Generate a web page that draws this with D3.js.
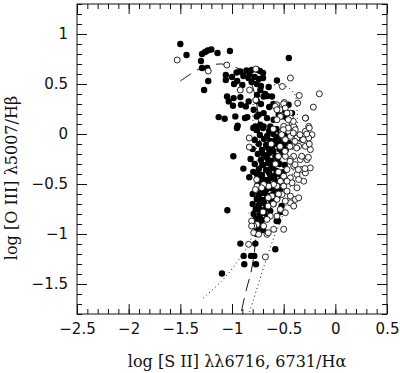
<!DOCTYPE html>
<html>
<head>
<meta charset="utf-8">
<script src="https://cdn.jsdelivr.net/npm/d3@7"></script>
<style>
  body { margin: 0; background: #fff; }
  svg { display: block; }
  .tick text { font-family: "DejaVu Sans", sans-serif; font-size: 15px; fill: #111; }
  .title { font-family: "DejaVu Serif", serif; font-size: 16px; fill: #111; }
</style>
</head>
<body>
<svg id="chart"></svg>
<script>
// tick values
const xTicks = [-2.5, -2, -1.5, -1, -0.5, 0, 0.5];
const yTicks = [-1.5, -1, -0.5, 0, 0.5, 1];

// filled circles: [log SII/Ha, log OIII/Hb]
const filledPts = [
  [-1.50, 0.90], [-1.44, 0.79], [-1.29, 0.80], [-1.26, 0.82], [-1.235, 0.835], [-1.20, 0.845],
  [-1.30, 0.73], [-1.29, 0.66], [-1.24, 0.66], [-1.23, 0.53], [-1.27, 0.44], [-1.14, 0.81],
  [-1.02, 0.83], [-0.45, 0.76],
  [-1.06, 0.59], [-1.00, 0.57], [-0.955, 0.615], [-0.92, 0.625], [-0.89, 0.58], [-0.86, 0.635],
  [-0.83, 0.60], [-0.81, 0.64], [-0.76, 0.645], [-0.73, 0.63], [-0.70, 0.61], [-0.84, 0.56],
  [-0.78, 0.57], [-0.74, 0.55], [-0.70, 0.56], [-1.06, 0.54], [-0.98, 0.50], [-0.95, 0.53],
  [-0.90, 0.49], [-0.81, 0.52], [-0.76, 0.50], [-0.72, 0.48], [-0.565, 0.535], [-0.645, 0.47],
  [-0.726, 0.44], [-0.758, 0.39], [-0.694, 0.375], [-0.613, 0.375], [-0.68, 0.40], [-0.66, 0.38],
  [-1.048, 0.375], [-1.032, 0.326], [-0.984, 0.359], [-0.99, 0.282], [-0.919, 0.369], [-0.913, 0.292],
  [-0.866, 0.276], [-0.839, 0.326], [-0.79, 0.243], [-0.742, 0.193], [-0.694, 0.209], [-0.661, 0.159],
  [-0.726, 0.093], [-0.774, 0.076], [-0.694, 0.076], [-0.629, 0.076], [-0.597, 0.143], [-0.548, 0.193],
  [-0.516, 0.176], [-0.50, 0.243], [-0.468, 0.159], [-0.419, 0.209], [-0.452, 0.292], [-0.60, 0.30],
  [-0.64, 0.27], [-0.72, 0.30], [-0.76, 0.33],
  [-1.129, 0.169], [-1.071, 0.153], [-0.968, 0.176], [-0.945, 0.083], [-0.952, 0.06], [-0.852, 0.169],
  [-0.874, 0.16], [-0.761, 0.175], [-0.794, 0.06],
  [-0.76, 0.04], [-0.70, 0.06], [-0.64, 0.03], [-0.57, 0.05], [-0.53, 0.02],
  [-0.73, -0.01], [-0.66, -0.02], [-0.60, 0.00], [-0.55, -0.03], [-0.50, 0.01], [-0.47, -0.02],
  [-0.78, -0.06], [-0.69, -0.05], [-0.63, -0.07], [-0.58, -0.06], [-0.52, -0.08],
  [-0.74, -0.10], [-0.67, -0.11], [-0.61, -0.12], [-0.56, -0.10], [-0.50, -0.11], [-0.45, -0.09],
  [-0.80, -0.15], [-0.71, -0.16], [-0.65, -0.14], [-0.60, -0.17], [-0.54, -0.15], [-0.48, -0.16],
  [-0.75, -0.20], [-0.69, -0.21], [-0.64, -0.19], [-0.58, -0.22], [-0.52, -0.20],
  [-0.82, -0.25], [-0.72, -0.26], [-0.66, -0.24], [-0.62, -0.27], [-0.56, -0.25],
  [-0.78, -0.30], [-0.70, -0.31], [-0.65, -0.29], [-0.60, -0.32], [-0.54, -0.30], [-0.49, -0.31],
  [-0.74, -0.35], [-0.67, -0.36], [-0.62, -0.34], [-0.57, -0.37],
  [-0.76, -0.40], [-0.71, -0.41], [-0.64, -0.39], [-0.59, -0.42], [-0.54, -0.40], [-0.50, -0.38],
  [-0.73, -0.45], [-0.68, -0.46], [-0.63, -0.44], [-0.58, -0.47], [-0.52, -0.45],
  [-0.75, -0.50], [-0.70, -0.51], [-0.65, -0.49], [-0.60, -0.52], [-0.55, -0.50],
  [-0.72, -0.55], [-0.67, -0.56], [-0.63, -0.54], [-0.58, -0.57], [-0.53, -0.55],
  [-0.80, -0.60], [-0.74, -0.61], [-0.69, -0.59], [-0.64, -0.62], [-0.60, -0.60], [-0.56, -0.63],
  [-0.76, -0.65], [-0.71, -0.66], [-0.66, -0.64], [-0.62, -0.67], [-0.58, -0.65],
  [-0.80, -0.70], [-0.74, -0.71], [-0.69, -0.69], [-0.65, -0.72], [-0.60, -0.70],
  [-0.77, -0.75], [-0.72, -0.76], [-0.67, -0.74], [-0.63, -0.77],
  [-0.79, -0.80], [-0.73, -0.81], [-0.69, -0.79], [-0.64, -0.82],
  [-0.77, -0.85], [-0.71, -0.86], [-0.66, -0.84], [-0.80, -0.90], [-0.74, -0.91],
  [-0.76, -0.95], [-0.70, -0.96],
  [-0.987, -0.223], [-1.045, -0.762], [-0.89, -0.346], [-0.794, -0.379], [-0.833, -0.433],
  [-0.919, -1.096], [-1.097, -1.395], [-0.887, -1.219], [-0.881, -1.302], [-0.816, -1.219],
  [-0.784, -1.219], [-0.768, -1.302], [-0.774, -1.096], [-0.581, -1.153], [-0.52, -0.72],
  [-0.53, -0.78], [-0.555, -0.87], [-0.76, -1.0], [-0.745, -0.88], [-0.568, -0.87]
];

// open circles
const openPts = [
  [-1.53, 0.74], [-1.23, 0.63], [-1.05, 0.69], [-0.77, 0.65], [-0.92, 0.44], [-0.83, 0.44],
  [-0.77, 0.34], [-0.435, 0.56], [-0.513, 0.475], [-0.349, 0.385], [-0.155, 0.402], [-0.364, 0.309],
  [-0.213, 0.269], [-0.287, 0.16], [-0.567, 0.292], [-0.494, 0.315], [-0.535, 0.242], [-0.439, 0.209],
  [-0.581, 0.276], [-0.565, 0.243], [-0.50, 0.302], [-0.484, 0.259], [-0.468, 0.209], [-0.532, 0.176],
  [-0.565, 0.143], [-0.435, 0.159], [-0.419, 0.11], [-0.403, 0.076], [-0.50, 0.076], [-0.516, 0.027],
  [-0.452, 0.027], [-0.387, 0.043], [-0.29, 0.159], [-0.258, 0.076], [-0.29, 0.027], [-0.226, -0.007],
  [-0.258, -0.04], [-0.323, -0.056], [-0.371, -0.04], [-0.435, -0.023], [-0.484, -0.056], [-0.419, -0.123],
  [-0.355, -0.123], [-0.29, -0.123], [-0.242, -0.156], [-0.403, -0.223], [-0.339, -0.256], [-0.435, -0.256],
  [-0.484, -0.223], [-0.274, -0.256], [-0.323, -0.355], [-0.242, -0.339], [-0.29, -0.389], [-0.403, -0.322],
  [-0.468, -0.355], [-0.371, -0.405], [-0.435, -0.439], [-0.50, -0.422], [-0.532, -0.472], [-0.565, -0.522],
  [-0.50, -0.522], [-0.468, -0.571], [-0.516, -0.605], [-0.435, -0.621], [-0.387, -0.654], [-0.435, -0.688],
  [-0.484, -0.671], [-0.403, -0.721], [-0.355, -0.638], [-0.371, -0.538], [-0.306, -0.472], [-0.355, -0.455],
  [-0.419, -0.488], [-0.468, -0.472], [-0.597, -0.505], [-0.645, -0.522], [-0.694, -0.505], [-0.758, -0.522],
  [-0.774, -0.555], [-0.613, -0.621], [-0.565, -0.654], [-0.532, -0.754], [-0.484, -0.787], [-0.565, -0.821],
  [-0.629, -0.821], [-0.661, -0.854], [-0.694, -0.92], [-0.758, -0.904], [-0.79, -0.92], [-0.79, -0.987],
  [-0.742, -1.003], [-0.661, -1.003], [-0.597, -0.953], [-0.50, -0.953], [-0.839, -1.103], [-0.677, -1.229],
  [-0.252, 0.06], [-0.277, 0.0], [-0.31, -0.057], [-0.252, -0.10], [-0.261, -0.233], [-0.325, -0.223],
  [-0.374, -0.14], [-0.39, -0.074], [-0.342, -0.007], [-0.407, 0.01], [-0.455, 0.06], [-0.503, 0.043],
  [-0.519, -0.007], [-0.439, -0.124], [-0.487, -0.173], [-0.439, -0.273], [-0.39, -0.306], [-0.294, -0.346],
  [-0.358, -0.356], [-0.535, -0.124], [-0.551, -0.223], [-0.407, 0.126], [-0.455, 0.143],
  [-0.761, -0.456], [-0.713, -0.538], [-0.649, -0.638], [-0.833, -0.04], [-0.833, -0.13],
  [-0.62, -0.10], [-0.58, -0.30], [-0.60, 0.05], [-0.55, -0.38], [-0.65, -0.72], [-0.70, -0.78],
  [-0.60, -0.70], [-0.55, -0.60], [-0.81, -0.87], [-0.81, -0.92], [-0.649, -0.987]
];

// model curves
const dashedX = [-1.50, -1.40, -1.30, -1.20, -1.10, -1.00, -0.90, -0.82, -0.77, -0.74, -0.73, -0.74, -0.76, -0.78, -0.82, -0.86, -0.91];
const dashedY = [0.53, 0.60, 0.66, 0.69, 0.70, 0.68, 0.63, 0.52, 0.35, 0.10, -0.20, -0.50, -0.85, -1.15, -1.40, -1.55, -1.78];
const dottedAX = [-1.28, -1.10, -0.95, -0.85, -0.77, -0.74, -0.76, -0.80, -0.78, -0.73, -0.60, -0.52, -0.45, -0.39, -0.37, -0.37, -0.40, -0.45, -0.50, -0.60, -0.69, -0.76, -0.83];
const dottedAY = [-1.64, -1.47, -1.28, -1.12, -0.92, -0.60, -0.20, 0.21, 0.36, 0.44, 0.49, 0.49, 0.46, 0.39, 0.24, 0.00, -0.30, -0.60, -0.79, -1.05, -1.32, -1.55, -1.78];
const dottedBX = [-0.84, -0.73, -0.62];
const dottedBY = [-0.79, -0.72, -0.62];

const width = 400, height = 373;
const mLeft = 77, mRight = 387, mTop = 4, mBottom = 314;

const svg = d3.select("#chart").attr("width", width).attr("height", height);

const x = d3.scaleLinear().domain([-2.5, 0.5]).range([mLeft, mRight]);
const y = d3.scaleLinear().domain([-1.8, 1.3]).range([mBottom, mTop]);

const fmt = d => d3.format("")(d);

// minor ticks every 0.1
const xMinor = d3.range(-25, 6).map(d => d / 10);
const yMinor = d3.range(-18, 14).map(d => d / 10);

function tickAxis(axis, pos, vals, size, labels) {
  let g = svg.append("g")
    .attr("transform", pos)
    .call(axis.tickValues(vals).tickSizeInner(size).tickSizeOuter(0).tickPadding(9)
      .tickFormat(labels ? fmt : ""));
  g.select(".domain").remove();
  g.selectAll("line").attr("stroke", "#111").attr("stroke-width", 1);
  return g;
}

tickAxis(d3.axisBottom(x), `translate(0,${mBottom})`, xMinor, -5, false);
tickAxis(d3.axisBottom(x), `translate(0,${mBottom})`, xTicks, -10, true);
tickAxis(d3.axisTop(x), `translate(0,${mTop})`, xMinor, -5, false);
tickAxis(d3.axisTop(x), `translate(0,${mTop})`, xTicks, -10, false);
tickAxis(d3.axisLeft(y), `translate(${mLeft},0)`, yMinor, -5, false);
tickAxis(d3.axisLeft(y), `translate(${mLeft},0)`, yTicks, -10, true);
tickAxis(d3.axisRight(y), `translate(${mRight},0)`, yMinor, -5, false);
tickAxis(d3.axisRight(y), `translate(${mRight},0)`, yTicks, -10, false);

// clip for curves
svg.append("clipPath").attr("id", "clip")
  .append("rect").attr("x", mLeft).attr("y", mTop).attr("width", mRight - mLeft).attr("height", mBottom - mTop);

const line = d3.line().x(d => x(d[0])).y(d => y(d[1])).curve(d3.curveCatmullRom);

const plot = svg.append("g").attr("clip-path", "url(#clip)");

plot.append("path")
  .datum(dashedX.map((d, i) => [d, dashedY[i]]))
  .attr("fill", "none").attr("stroke", "#111").attr("stroke-width", 1)
  .attr("stroke-dasharray", "13,7")
  .attr("d", line);

[[dottedAX, dottedAY], [dottedBX, dottedBY]].forEach(([xs, ys]) => {
  plot.append("path")
    .datum(xs.map((d, i) => [d, ys[i]]))
    .attr("fill", "none").attr("stroke", "#111").attr("stroke-width", 1)
    .attr("stroke-dasharray", "1,3")
    .attr("d", line);
});

plot.selectAll(".filled")
  .data(filledPts)
  .enter()
  .append("circle")
  .attr("class", "filled")
  .attr("cx", d => x(d[0]))
  .attr("cy", d => y(d[1]))
  .attr("r", 3.2)
  .attr("fill", "#000");

// open symbols drawn last, with a white inside
plot.selectAll(".open")
  .data(openPts)
  .enter()
  .append("circle")
  .attr("class", "open")
  .attr("cx", d => x(d[0]))
  .attr("cy", d => y(d[1]))
  .attr("r", 3)
  .attr("fill", "#fff")
  .attr("stroke", "#111")
  .attr("stroke-width", 0.9);

// frame
svg.append("rect")
  .attr("x", mLeft).attr("y", mTop)
  .attr("width", mRight - mLeft).attr("height", mBottom - mTop)
  .attr("fill", "none").attr("stroke", "#111").attr("stroke-width", 1);

// axis titles
svg.append("text")
  .attr("class", "title")
  .attr("x", 237).attr("y", 367)
  .attr("text-anchor", "middle")
  .text("log [S II] λλ6716, 6731/Hα");

svg.append("text")
  .attr("class", "title")
  .attr("transform", "translate(17,178) rotate(-90)")
  .attr("text-anchor", "middle")
  .text("log [O III] λ5007/Hβ");
</script>
</body>
</html>
